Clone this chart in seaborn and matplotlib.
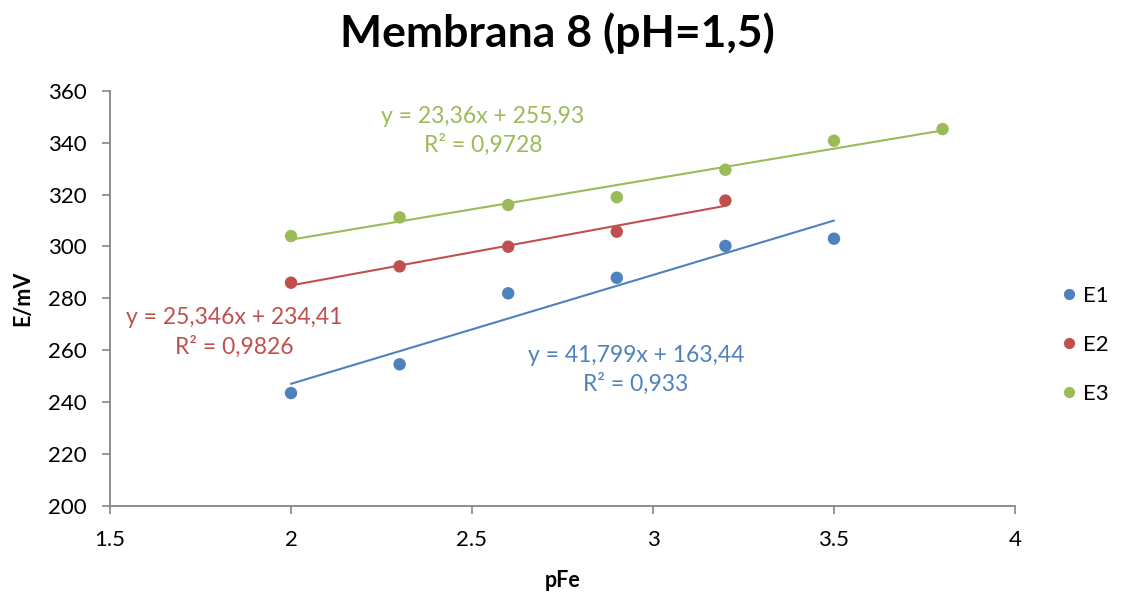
import matplotlib
matplotlib.use("Agg")
import matplotlib.pyplot as plt
import seaborn as sns
import pandas as pd

# ---- data ----
x_e1 = [2.0, 2.3, 2.6, 2.9, 3.2, 3.5]
y_e1 = [243.4, 254.5, 281.9, 287.9, 300.2, 303.0]
x_e2 = [2.0, 2.3, 2.6, 2.9, 3.2]
y_e2 = [286.0, 292.3, 299.9, 305.7, 317.7]
x_e3 = [2.0, 2.3, 2.6, 2.9, 3.2, 3.5, 3.8]
y_e3 = [304.0, 311.2, 316.0, 319.0, 329.6, 340.8, 345.3]
series_names = ["E1", "E2", "E3"]
eq_labels = ["y = 41,799x + 163,44\nR² = 0,933",
             "y = 25,346x + 234,41\nR² = 0,9826",
             "y = 23,36x + 255,93\nR² = 0,9728"]
xticks = [1.5, 2, 2.5, 3, 3.5, 4]
xtick_labels = ["1.5", "2", "2.5", "3", "3.5", "4"]
yticks = [200, 220, 240, 260, 280, 300, 320, 340, 360]
title = "Membrana 8 (pH=1,5)"
xlabel = "pFe"
ylabel = "E/mV"

colors = ["#4F81BD", "#C0504D", "#9BBB59"]

sns.set_style("white")
plt.rcParams['font.family'] = ['Lato', 'DejaVu Sans']
plt.rcParams['text.color'] = 'black'
plt.rcParams['axes.labelcolor'] = 'black'
plt.rcParams['xtick.color'] = 'black'
plt.rcParams['ytick.color'] = 'black'

df = pd.concat([
    pd.DataFrame({"pFe": x_e1, "E": y_e1, "s": "E1"}),
    pd.DataFrame({"pFe": x_e2, "E": y_e2, "s": "E2"}),
    pd.DataFrame({"pFe": x_e3, "E": y_e3, "s": "E3"}),
], ignore_index=True)

fig = plt.figure(figsize=(11.22, 5.96), dpi=100)
ax = fig.add_axes([110/1122, 1-505.5/596, (1015-110)/1122, (505.5-91)/596])

for name, c in zip(series_names, colors):
    sub = df[df["s"] == name]
    sns.regplot(data=sub, x="pFe", y="E", ax=ax, scatter=False, ci=None,
                color=c, truncate=True, line_kws={"linewidth": 1.5})

sns.scatterplot(data=df, x="pFe", y="E", hue="s", palette=colors, ax=ax,
                s=80, edgecolor="none", legend=True, zorder=3)

ax.set_xlim(1.5, 4)
ax.set_ylim(200, 360)
ax.set_xticks(xticks)
ax.set_xticklabels(xtick_labels)
ax.set_yticks(yticks)
ax.tick_params(axis="both", labelsize=16, length=6, width=1.2, color="#868686",
               labelcolor="black", direction="out", left=True, bottom=True)
ax.tick_params(axis="x", pad=12)
ax.tick_params(axis="y", pad=11)
for sp in ["top", "right"]:
    ax.spines[sp].set_visible(False)
for sp in ["left", "bottom"]:
    ax.spines[sp].set_color("#868686")
    ax.spines[sp].set_linewidth(1.3)

ax.set_xlabel(xlabel, fontsize=15.5, fontweight="bold", labelpad=14, color="black")
ax.set_ylabel(ylabel, fontsize=15.5, fontweight="bold", labelpad=10, color="black")
fig.suptitle(title, fontsize=32, fontweight="bold", x=557/1122, y=1-33/596,
             va="center", color="black")

# trendline equation labels
pos = [(2.953, 252.3), (1.843, 266.9), (2.530, 344.6)]
for lab, c, (px, py) in zip(eq_labels, colors, pos):
    ax.text(px, py, lab, color=c, fontsize=16.5, ha="center", va="center",
            linespacing=1.4)

handles, labels = ax.get_legend_handles_labels()
leg = ax.legend(handles, labels, loc="center left",
                bbox_to_anchor=(1060/1122, 1-345/596), bbox_transform=fig.transFigure,
                frameon=False, fontsize=16, labelspacing=1.3, handletextpad=0.25,
                handlelength=0.8, borderpad=0, borderaxespad=0, markerscale=0.9)

fig.savefig("out.png", dpi=100)
